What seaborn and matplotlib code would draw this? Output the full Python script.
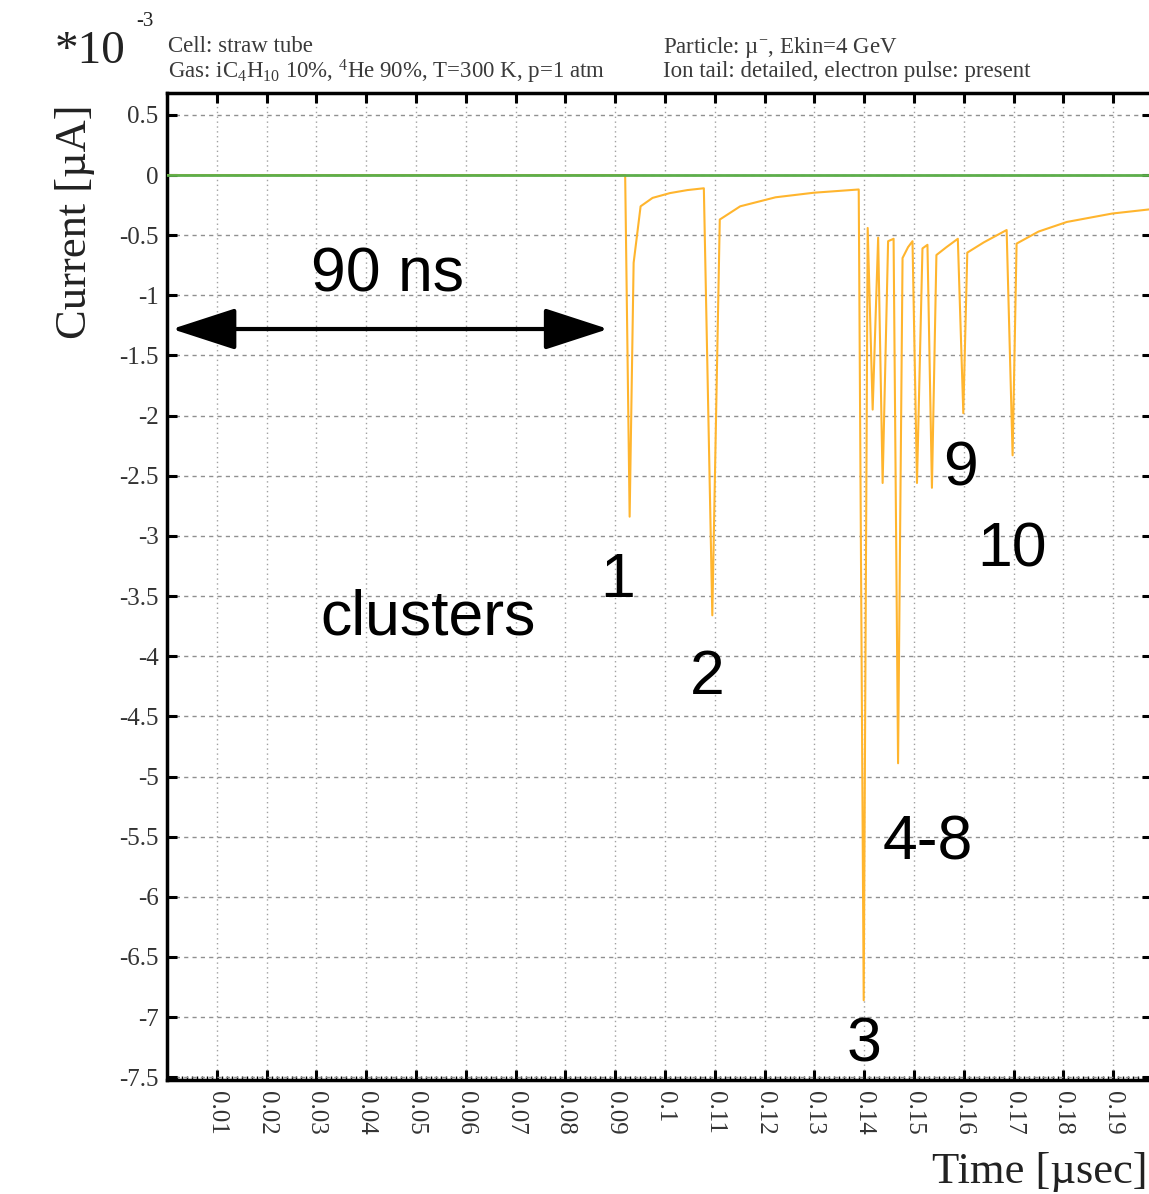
import matplotlib
matplotlib.use("Agg")
import matplotlib.pyplot as plt
import numpy as np
import pandas as pd
import seaborn as sns
from matplotlib.ticker import MultipleLocator, FuncFormatter

# Simulated anode current of a straw tube (units of 1e-3 uA) versus time (usec)
time_us = [0.0000, 0.0920, 0.0929, 0.0937, 0.0951, 0.0975, 0.1010, 0.1045, 0.1078,
           0.1095, 0.1110, 0.1151, 0.1222, 0.1299, 0.1389,
           0.1399, 0.1407, 0.1417, 0.1428, 0.1437, 0.1448, 0.1459,
           0.1468, 0.1477, 0.1488, 0.1497, 0.1506, 0.1517, 0.1527,
           0.1536, 0.1545, 0.1565, 0.1588, 0.1599, 0.1607, 0.1640, 0.1686,
           0.1698, 0.1706, 0.1750, 0.1807, 0.1898, 0.1974, 0.2000]
current = [0.00, 0.00, -2.84, -0.73, -0.26, -0.19, -0.15, -0.125, -0.11,
           -3.66, -0.37, -0.26, -0.185, -0.147, -0.12,
           -6.86, -0.44, -1.95, -0.52, -2.56, -0.55, -0.53,
           -4.89, -0.69, -0.60, -0.55, -2.56, -0.61, -0.58,
           -2.60, -0.665, -0.60, -0.53, -1.98, -0.645, -0.56, -0.457,
           -2.33, -0.57, -0.47, -0.39, -0.32, -0.285, -0.27]

y_ticks = [-7.5, -7, -6.5, -6, -5.5, -5, -4.5, -4, -3.5, -3, -2.5, -2, -1.5, -1, -0.5, 0, 0.5]
x_ticks = [0.01, 0.02, 0.03, 0.04, 0.05, 0.06, 0.07, 0.08, 0.09, 0.10,
           0.11, 0.12, 0.13, 0.14, 0.15, 0.16, 0.17, 0.18, 0.19]

# cluster labels: (text, time, current)
cluster_labels = [("1", 0.0904, -3.37), ("2", 0.1084, -4.18), ("3", 0.1400, -7.23),
                  ("4-8", 0.1528, -5.55), ("9", 0.1594, -2.44), ("10", 0.1697, -3.12)]

sns.set_theme(style="ticks")
plt.rcParams["font.family"] = ["Liberation Serif", "DejaVu Serif"]
plt.rcParams["mathtext.fontset"] = "custom"
plt.rcParams["mathtext.rm"] = "Liberation Serif"
plt.rcParams["mathtext.it"] = "Liberation Serif:italic"

W, H = 1149, 1194
fig = plt.figure(figsize=(W / 100, H / 100), dpi=100)
ax = fig.add_axes([167 / W, (H - 1080) / H, 985 / W, 987 / H])

df = pd.DataFrame({"time": time_us, "current": current})
sns.lineplot(data=df, x="time", y="current", ax=ax, color="#FFB52E", lw=1.5,
             estimator=None, sort=False, zorder=3)
ax.axhline(0, color="#5DAE4B", lw=2.0, zorder=4)

ax.set_xlim(0, 985 / 4980)
ax.set_ylim(-7.523, 0.682)
ax.set_xticks(x_ticks)
ax.set_yticks(y_ticks)
ax.xaxis.set_major_formatter(FuncFormatter(lambda v, p: f"{v:g}"))
ax.yaxis.set_major_formatter(FuncFormatter(lambda v, p: f"{v:g}"))
ax.xaxis.set_minor_locator(MultipleLocator(0.001))
ax.set_xlabel("")
ax.set_ylabel("")

ax.tick_params(axis="both", which="major", direction="in", length=7, width=2.2,
               colors="black", labelcolor="#333333", top=True, right=True)
ax.tick_params(axis="x", which="minor", direction="in", length=3, width=1,
               colors="black", top=False)
ax.tick_params(axis="x", labelsize=18, labelrotation=270, pad=8)
ax.tick_params(axis="y", labelsize=18, pad=6)
for lab in ax.get_xticklabels():
    lab.set_verticalalignment("top")

ax.xaxis.grid(True, which="major", ls=(0, (1, 2.5)), color="#a0a0a0", lw=1.0)
ax.yaxis.grid(True, which="major", ls=(0, (3, 3)), color="#909090", lw=1.0)
for s in ax.spines.values():
    s.set_linewidth(2.5)
    s.set_color("black")

# 90 ns delay arrow
ax.annotate("", xy=(0.0886, -1.28), xytext=(0.0010, -1.28),
            arrowprops=dict(arrowstyle="<|-|>,head_length=4,head_width=1.3",
                            mutation_scale=10, lw=3, color="black",
                            shrinkA=0, shrinkB=0))

sans = ["Liberation Sans", "DejaVu Sans"]
big = dict(family=sans, fontsize=45, ha="center", va="center", color="black")
ax.text(0.0442, -0.83, "90 ns", **big)
ax.text(0.0524, -3.68, "clusters", **big)
for txt, t, v in cluster_labels:
    ax.text(t, v, txt, **big)


def fpx(x, y):
    return x / W, 1 - y / H


fig.text(*fpx(75, 222), "Current [µA]", rotation=90, fontsize=32, ha="center",
         va="center", color="#222222")
fig.text(*fpx(1148, 1172), "Time [µsec]", fontsize=32, ha="right", va="center",
         color="#222222")
fig.text(*fpx(55, 52), "*10", fontsize=34, ha="left", va="center", color="#222222")
fig.text(*fpx(136, 22), "-3", fontsize=15, ha="left", va="center", color="#222222")
hdr = dict(fontsize=16.5, ha="left", va="center", color="#3a3a3a")
fig.text(*fpx(168, 47), "Cell: straw tube", **hdr)
fig.text(*fpx(168, 72), r"Gas: iC$_4$H$_{10}$ 10%, $^4$He 90%, T=300 K, p=1 atm", **hdr)
fig.text(*fpx(663, 47), r"Particle: µ$^{-}$, Ekin=4 GeV", **hdr)
fig.text(*fpx(663, 72), "Ion tail: detailed, electron pulse: present", **hdr)

fig.savefig("out.png", dpi=100)
